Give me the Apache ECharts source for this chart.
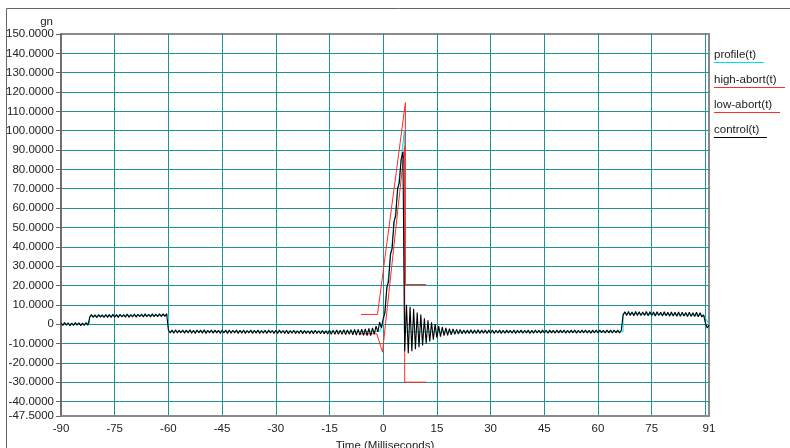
<!DOCTYPE html>
<html>
<head>
<meta charset="utf-8">
<script src="https://cdn.jsdelivr.net/npm/echarts@6/dist/echarts.min.js"></script>
<style>
html,body{margin:0;padding:0;background:#fff;}
#chart{width:790px;height:448px;}
</style>
</head>
<body>
<div id="chart"></div>
<script>
// ---- data ----
const xGridTicks = [-90,-75,-60,-45,-30,-15,0,15,30,45,60,75,90];
const xTickLabels = [-90,-75,-60,-45,-30,-15,0,15,30,45,60,75,91];
const yTickLabels = [-47.5,-40,-30,-20,-10,0,10,20,30,40,50,60,70,80,90,100,110,120,130,140,150];

const seriesNames = ['profile(t)','high-abort(t)','low-abort(t)','control(t)'];

// [time ms, g]
const profile = [[-90,0],[-82,0],[-82,4.2],[-60,4.6],[-60,-3.8],[-1,-3.8],[0,0],[5.9,100],[5.9,-4],[67,-4],[67,5.5],[89.5,4.6],[91,0]];
const highAbort = [[-6.2,5],[-1.6,5],[6.2,114.5],[6.2,20.5],[12,20.5]];
const lowAbort = [[-6.2,-5],[-1.8,-5],[-0.2,-14.5],[6.0,92],[6.0,-30],[12,-30]];

// control(t): sampled every 0.5 ms starting at -90 ms
const controlStart = -90;
const controlStep = 0.5;
const control = [
 0.6,-0.7,0.8,-0.6,0.7,-0.8,0.6,-0.7,0.8,-0.5,0.7,-0.8,0.5,-0.7,0.8,-0.6,
 3.4,4.9,3.5,4.8,3.3,5.0,3.6,4.8,3.4,5.0,
 3.5,4.9,3.4,5.1,3.6,4.9,3.5,5.1,3.7,4.9,
 3.6,5.2,3.5,5.0,3.7,5.2,3.6,5.1,3.8,5.2,
 3.7,5.3,3.8,5.1,3.7,5.3,3.9,5.2,3.8,5.4,
 3.9,5.3,4.0,5.4,
 -3.0,-4.6,-3.1,-4.7,-2.9,-4.6,-3.2,-4.5,-3.0,-4.7,
 -3.1,-4.6,-2.9,-4.7,-3.2,-4.8,-3.0,-4.5,-3.1,-4.7,
 -2.9,-4.8,-3.2,-4.6,-3.0,-4.7,-3.1,-4.5,-3.2,-4.8,
 -3.0,-4.6,-3.1,-4.9,-3.0,-4.7,-3.2,-4.6,-3.1,-4.8,
 -3.2,-4.7,-3.0,-4.8,-3.3,-4.6,-3.1,-4.9,-3.2,-4.7,
 -3.1,-4.8,-3.3,-4.7,-3.2,-4.9,-3.1,-4.6,-3.3,-4.8,
 -3.2,-4.9,-3.1,-4.7,-3.3,-4.8,-3.2,-5.0,-3.3,-4.7,
 -3.2,-4.9,-3.4,-4.8,-3.2,-5.0,-3.3,-4.8,-3.4,-4.9,
 -3.3,-5.0,-3.2,-4.8,-3.4,-5.0,-3.3,-4.9,-3.5,-5.1,
 -3.1,-5.2,-3.2,-5.3,-3.0,-5.2,-3.2,-5.3,-2.9,-5.4,
 -3.0,-5.3,-2.9,-5.5,-2.8,-5.6,-2.7,-5.7,-2.6,-5.8,
 -2.5,-5.9,-2.2,-6.0,
 -2.0,-5.2,-1.0,-4.0,1.0,-2.0,
 3,6,19,22,36,39,53,56,70,73,85,89,
 -14,10,-15,9,-14,8,-13,6,-12,5,-11,3,-10,2,-9,1,-8,0,-7,-1,
 -6.5,-1.5,-6,-2,-5.8,-2.3,-5.5,-2.5,-5.3,-2.7,-5.1,-2.8,-5,-3,-4.9,-3.1,-4.8,
 -2.9,-4.9,-3.0,-4.8,-2.9,-4.9,-3.1,-4.7,-3.0,-4.8,
 -3.1,-4.7,-3.0,-4.8,-3.2,-4.6,-3.1,-4.8,-3.2,-4.7,
 -3.1,-4.6,-3.2,-4.7,-3.0,-4.8,-3.2,-4.6,-3.1,-4.7,
 -3.2,-4.6,-3.1,-4.8,-3.2,-4.7,-3.0,-4.6,-3.2,-4.7,
 -3.1,-4.6,-3.2,-4.7,-3.1,-4.5,-3.2,-4.7,-3.0,-4.6,
 -3.1,-4.5,-3.0,-4.7,-3.2,-4.6,-3.1,-4.5,-3.0,-4.7,
 -3.2,-4.6,-3.1,-4.5,-3.0,-4.6,-3.2,-4.7,-3.1,-4.5,
 -3.0,-4.6,-3.1,-4.4,-3.2,-4.6,-3.0,-4.5,-3.1,-4.6,
 -3.0,-4.5,-3.1,-4.6,-3.2,
 4.6,6.4,4.4,6.5,4.5,6.3,4.3,6.5,4.5,6.4,
 4.4,6.3,4.5,6.5,4.3,6.4,4.4,6.3,4.2,6.4,
 4.4,6.2,4.2,6.4,4.3,6.2,4.1,6.3,4.2,6.1,
 4.1,6.3,4.0,6.2,4.2,6.0,3.9,6.2,4.0,5.9,
 3.9,6.1,3.8,5.9,3.7,
 4.8,0.5,-2.0,-0.5
];

// ---- styles ----
const FONT = 'Liberation Sans, Arial, sans-serif';
const FS = 11.5;
const lineColors = ['#00e0f0','#ff2a2a','#ff2a2a','#000000'];
const gridColor = '#1f938e';
const borderColor = '#8a8a8a';

const controlPairs = control.map((v, i) => [controlStart + i * controlStep, v]);

function textWidth(s) {
  const c = document.createElement('canvas').getContext('2d');
  c.font = FS + 'px ' + FONT;
  return c.measureText(s).width;
}

const legendX = 714, legendY0 = 55.5, legendGap = 25;
const legendGraphics = [];
seriesNames.forEach((n, i) => {
  const cy = legendY0 + i * legendGap;
  const uy = Math.round(cy + 6) + 0.5;
  legendGraphics.push({
    type: 'text', left: legendX, top: cy - 7, silent: true,
    style: { text: n, fill: '#222', font: FS + 'px ' + FONT }
  });
  legendGraphics.push({
    type: 'line', silent: true,
    shape: { x1: legendX, y1: uy, x2: legendX + Math.round(textWidth(n)) + 8, y2: uy },
    style: { stroke: lineColors[i], lineWidth: 1 }
  });
});

const chart = echarts.init(document.getElementById('chart'), null, { renderer: 'canvas' });
chart.setOption({
  animation: false,
  backgroundColor: '#fff',
  grid: { left: 61, right: 81, top: 34, bottom: 32, outerBoundsMode: 'none', containLabel: false, show: true, borderColor: borderColor, borderWidth: 2, backgroundColor: 'transparent' },
  xAxis: {
    type: 'value', min: -90, max: 91,
    name: 'Time (Milliseconds)', nameLocation: 'middle', nameGap: 19,
    nameTextStyle: { fontFamily: FONT, fontSize: FS, color: '#222' },
    axisLine: { show: true, onZero: false, lineStyle: { color: borderColor, width: 2 } },
    axisTick: { show: false, customValues: xGridTicks },
    axisLabel: { customValues: xTickLabels, fontFamily: FONT, fontSize: FS, color: '#222', margin: 7 },
    splitLine: { show: true, showMinLine: false, lineStyle: { color: gridColor, width: 1 } }
  },
  yAxis: {
    type: 'value', min: -47.5, max: 150,
    name: 'gn', nameLocation: 'end', nameGap: 5,
    nameTextStyle: { fontFamily: FONT, fontSize: FS, color: '#222', align: 'right', verticalAlign: 'bottom', padding: [0, 8, 0, 0] },
    axisLine: { show: true, onZero: false, lineStyle: { color: '#666', width: 1.5 } },
    axisTick: { show: true, length: 5, customValues: yTickLabels, lineStyle: { color: '#666' } },
    axisLabel: { customValues: yTickLabels, fontFamily: FONT, fontSize: FS, color: '#222', margin: 7,
      formatter: v => (v === 0 ? '0' : v.toFixed(4)) },
    splitLine: { show: true, showMinLine: false, showMaxLine: false, lineStyle: { color: gridColor, width: 1 } }
  },
  graphic: [
    { type: 'rect', silent: true, shape: { x: 6.5, y: 8.5, width: 900, height: 600 }, style: { fill: 'none', stroke: '#666', lineWidth: 1 } }
  ].concat(legendGraphics),
  series: [
    { name: seriesNames[0], type: 'line', data: profile, showSymbol: false, lineStyle: { color: lineColors[0], width: 1 }, z: 2 },
    { name: seriesNames[1], type: 'line', data: highAbort, showSymbol: false, lineStyle: { color: lineColors[1], width: 1 }, z: 2 },
    { name: seriesNames[2], type: 'line', data: lowAbort, showSymbol: false, lineStyle: { color: lineColors[2], width: 1 }, z: 2 },
    { name: seriesNames[3], type: 'line', data: controlPairs, showSymbol: false, lineStyle: { color: lineColors[3], width: 1.1 }, z: 3 }
  ]
});
</script>
</body>
</html>
